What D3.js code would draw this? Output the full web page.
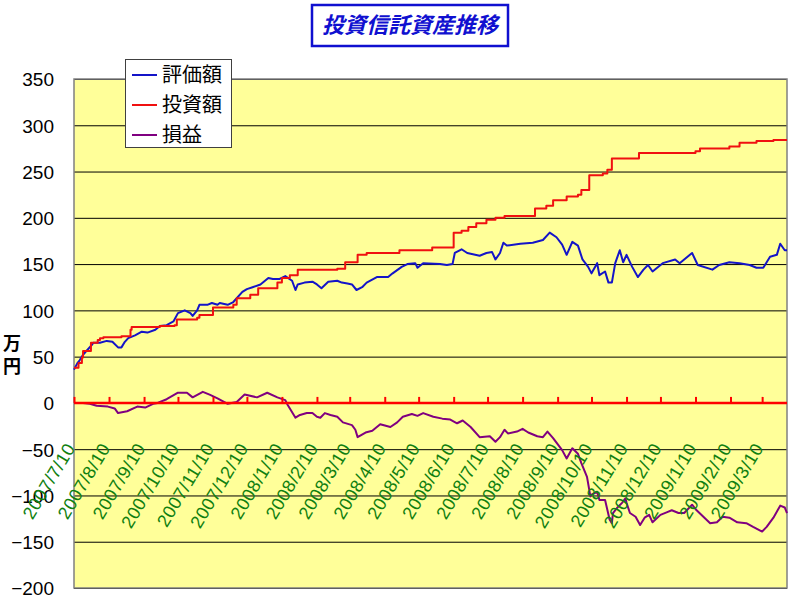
<!DOCTYPE html>
<html><head><meta charset="utf-8">
<script src="https://cdn.jsdelivr.net/npm/d3@7"></script>
<style>body{margin:0;background:#fff}</style>
</head><body>
<svg id="chart" width="800" height="605"></svg>
<script>
// 投資信託の評価額・投資額・損益の推移（単位：万円）
const chartTitle = "投資信託資産推移";
const seriesNames = ["評価額", "投資額", "損益"];
const seriesColors = ["#1414c8", "#f01010", "#800080"];
const unitLabel = "万円";
const yTickValues = [-200, -150, -100, -50, 0, 50, 100, 150, 200, 250, 300, 350];

const tickDates = ["2007-07-10","2007-08-10","2007-09-10","2007-10-10","2007-11-10","2007-12-10",
  "2008-01-10","2008-02-10","2008-03-10","2008-04-10","2008-05-10","2008-06-10","2008-07-10",
  "2008-08-10","2008-09-10","2008-10-10","2008-11-10","2008-12-10","2009-01-10","2009-02-10","2009-03-10"];
const tickLabels = ["2007/7/10","2007/8/10","2007/9/10","2007/10/10","2007/11/10","2007/12/10",
  "2008/1/10","2008/2/10","2008/3/10","2008/4/10","2008/5/10","2008/6/10","2008/7/10",
  "2008/8/10","2008/9/10","2008/10/10","2008/11/10","2008/12/10","2009/1/10","2009/2/10","2009/3/10"];
const dateRange = ["2007-07-10", "2009-04-01"];

// 評価額
const valuationDates = ["2007-07-10","2007-07-13","2007-07-15","2007-07-18","2007-07-26","2007-07-27","2007-08-02","2007-08-08","2007-08-13","2007-08-18","2007-08-21","2007-08-24","2007-08-27","2007-09-02","2007-09-08","2007-09-13","2007-09-20","2007-09-24","2007-09-30","2007-10-06","2007-10-10","2007-10-16","2007-10-21","2007-10-23","2007-10-27","2007-10-29","2007-11-05","2007-11-09","2007-11-14","2007-11-16","2007-11-23","2007-11-28","2007-12-06","2007-12-10","2007-12-15","2007-12-22","2007-12-29","2008-01-02","2008-01-08","2008-01-13","2008-01-19","2008-01-22","2008-01-24","2008-01-30","2008-02-06","2008-02-10","2008-02-14","2008-02-20","2008-02-28","2008-03-03","2008-03-08","2008-03-12","2008-03-16","2008-03-21","2008-03-25","2008-04-03","2008-04-13","2008-04-17","2008-04-25","2008-04-30","2008-05-07","2008-05-09","2008-05-14","2008-05-29","2008-06-04","2008-06-09","2008-06-11","2008-06-17","2008-06-22","2008-07-03","2008-07-09","2008-07-14","2008-07-17","2008-07-21","2008-07-24","2008-07-27","2008-08-08","2008-08-19","2008-08-28","2008-09-03","2008-09-09","2008-09-14","2008-09-18","2008-09-23","2008-09-28","2008-10-02","2008-10-07","2008-10-10","2008-10-15","2008-10-17","2008-10-22","2008-10-25","2008-10-28","2008-10-31","2008-11-04","2008-11-07","2008-11-10","2008-11-15","2008-11-20","2008-11-25","2008-11-29","2008-12-03","2008-12-12","2008-12-23","2008-12-27","2009-01-07","2009-01-12","2009-01-25","2009-01-31","2009-02-09","2009-02-18","2009-02-27","2009-03-05","2009-03-11","2009-03-17","2009-03-23","2009-03-26","2009-03-30","2009-04-01"];
const valuationValues = [36,43,46,52,63,65,65,67,66,60,60,66,70,73,77,76,79,83,84,88,97,100,97,94,100,106,106,108,106,108,106,109,120,123,125,128,135,134,134,137,132,122,128,130,131,128,124,131,132,130,129,128,122,125,130,136,136,140,147,150,151,146,151,150,149,150,162,166,162,159,162,163,155,162,173,170,172,173,176,184,179,171,160,174,170,155,147,140,151,138,142,130,130,151,165,152,160,147,136,144,149,142,151,155,151,162,149,144,149,152,151,149,146,146,158,160,172,165,165];

// 投資額（階段状に積み増し）
const investmentDates = ["2007-07-10","2007-07-14","2007-07-17","2007-07-18","2007-07-25","2007-07-31","2007-08-02","2007-08-05","2007-08-21","2007-08-29","2007-08-30","2007-09-24","2007-10-07","2007-10-09","2007-10-27","2007-10-29","2007-11-10","2007-11-28","2007-12-01","2007-12-13","2007-12-20","2008-01-06","2008-01-10","2008-01-17","2008-01-24","2008-02-28","2008-03-06","2008-03-17","2008-03-25","2008-04-23","2008-05-22","2008-06-10","2008-06-17","2008-06-23","2008-06-30","2008-07-09","2008-07-17","2008-07-25","2008-08-21","2008-08-31","2008-09-06","2008-09-18","2008-09-28","2008-10-01","2008-10-08","2008-10-20","2008-10-24","2008-10-28","2008-11-21","2009-01-10","2009-01-14","2009-02-09","2009-02-18","2009-03-05","2009-03-20","2009-04-01"];
const investmentValues = [38,43,49,56,65,68,70,71,72,79,82,83,84,90,92,95,103,106,113,117,124,130,135,138,144,145,152,160,162,165,168,184,186,190,194,198,200,202,210,213,219,223,225,230,246,248,252,264,270,272,275,277,281,283,284,284];

// 損益
const profitDates = ["2007-07-10","2007-07-18","2007-07-24","2007-07-30","2007-08-09","2007-08-15","2007-08-18","2007-08-26","2007-09-04","2007-09-11","2007-09-18","2007-09-22","2007-09-30","2007-10-10","2007-10-18","2007-10-23","2007-11-01","2007-11-07","2007-11-14","2007-11-23","2007-12-01","2007-12-08","2007-12-19","2007-12-28","2008-01-06","2008-01-13","2008-01-15","2008-01-22","2008-01-26","2008-02-01","2008-02-06","2008-02-10","2008-02-13","2008-02-17","2008-02-22","2008-02-28","2008-03-04","2008-03-12","2008-03-15","2008-03-17","2008-03-24","2008-03-30","2008-04-06","2008-04-15","2008-04-21","2008-04-26","2008-05-04","2008-05-09","2008-05-14","2008-05-23","2008-05-31","2008-06-07","2008-06-13","2008-06-18","2008-06-25","2008-07-03","2008-07-12","2008-07-17","2008-07-21","2008-07-25","2008-07-28","2008-08-05","2008-08-10","2008-08-15","2008-08-23","2008-08-28","2008-09-01","2008-09-06","2008-09-14","2008-09-18","2008-09-23","2008-09-28","2008-10-01","2008-10-06","2008-10-09","2008-10-10","2008-10-15","2008-10-17","2008-10-22","2008-10-26","2008-10-28","2008-10-29","2008-11-02","2008-11-06","2008-11-09","2008-11-10","2008-11-13","2008-11-18","2008-11-22","2008-11-26","2008-11-30","2008-12-03","2008-12-10","2008-12-16","2008-12-20","2008-12-26","2008-12-31","2009-01-07","2009-01-11","2009-01-17","2009-01-23","2009-01-29","2009-02-03","2009-02-09","2009-02-16","2009-02-24","2009-03-02","2009-03-10","2009-03-14","2009-03-20","2009-03-26","2009-03-30","2009-04-01"];
const profitValues = [0,0,-1,-3,-4,-6,-11,-9,-4,-5,-1,0,4,11,11,6,12,9,5,-1,1,9,6,11,6,3,-2,-16,-13,-11,-11,-15,-16,-11,-13,-15,-21,-24,-29,-37,-32,-30,-23,-26,-21,-15,-12,-14,-11,-15,-17,-18,-22,-19,-26,-37,-36,-42,-37,-29,-33,-31,-28,-32,-36,-37,-31,-38,-51,-60,-49,-55,-65,-80,-101,-99,-96,-105,-105,-126,-130,-119,-113,-108,-103,-108,-119,-123,-132,-124,-121,-129,-121,-118,-116,-119,-119,-110,-116,-123,-130,-129,-123,-124,-129,-130,-134,-139,-134,-124,-111,-113,-119];

const parse = d3.utcParse("%Y-%m-%d");
const svg = d3.select("#chart");
const plot = {left: 74, right: 787, top: 79, bottom: 588};

const x = d3.scaleUtc().domain(dateRange.map(parse)).range([plot.left, plot.right]);
const y = d3.scaleLinear().domain([-200, 350]).range([plot.bottom, plot.top]);

svg.append("rect").attr("width", 800).attr("height", 605).attr("fill", "#fff");

// プロットエリア
svg.append("rect")
  .attr("x", plot.left).attr("y", plot.top)
  .attr("width", plot.right - plot.left).attr("height", plot.bottom - plot.top)
  .attr("fill", "#ffff99");

// 目盛線と縦軸ラベル
const yAxis = d3.axisLeft(y).tickValues(yTickValues).tickSize(-(plot.right - plot.left))
  .tickPadding(20).tickFormat(d => d < 0 ? "\u2212" + Math.abs(d) : String(d));
const gy = svg.append("g").attr("transform", `translate(${plot.left},0)`).call(yAxis);
gy.select(".domain").remove();
gy.selectAll(".tick line").attr("stroke", "#000").attr("stroke-width", 1);
gy.selectAll(".tick text")
  .attr("font-family", "'Liberation Sans', Arial, sans-serif")
  .attr("font-size", 19).attr("fill", "#000").attr("x", -20).attr("dy", "0.36em");

// プロットエリア枠
svg.append("rect")
  .attr("x", plot.left).attr("y", plot.top)
  .attr("width", plot.right - plot.left).attr("height", plot.bottom - plot.top)
  .attr("fill", "none").attr("stroke", "#808080").attr("stroke-width", 1.5);

// 系列
const series = [
  {dates: valuationDates, values: valuationValues, curve: d3.curveLinear},
  {dates: investmentDates, values: investmentValues, curve: d3.curveStepAfter},
  {dates: profitDates, values: profitValues, curve: d3.curveLinear}
];
series.forEach((s, i) => {
  const pts = s.dates.map((d, k) => [parse(d), s.values[k]]);
  svg.append("path")
    .attr("d", d3.line().x(p => x(p[0])).y(p => y(p[1])).curve(s.curve)(pts))
    .attr("fill", "none").attr("stroke", seriesColors[i])
    .attr("stroke-width", 2).attr("stroke-linejoin", "round");
});

// 横軸（0 の位置、赤）
const xAxis = d3.axisTop(x).tickValues(tickDates.map(parse)).tickSize(6).tickFormat("");
const gx = svg.append("g").attr("transform", `translate(0,${y(0)})`).call(xAxis);
gx.select(".domain").attr("stroke", "#ff0000").attr("stroke-width", 2.5)
  .attr("d", `M${plot.left},0H${plot.right}`);
gx.selectAll(".tick line").attr("stroke", "#ff0000").attr("stroke-width", 2);

// 日付ラベル（斜め）
const labelG = svg.append("g");
tickDates.forEach((d, i) => {
  const tx = x(parse(d)) + 2;
  const ty = y(0) + 45;
  labelG.append("text")
    .attr("transform", `translate(${tx},${ty}) rotate(-59)`)
    .attr("text-anchor", "end")
    .attr("font-family", "'Liberation Sans', Arial, sans-serif")
    .attr("font-size", 18).attr("letter-spacing", 0.5)
    .attr("fill", "#108010")
    .text(tickLabels[i]);
});

// 単位（縦書き）
svg.append("text").attr("x", 12).attr("y", 334)
  .attr("style", "writing-mode: vertical-rl; text-orientation: upright;")
  .attr("font-family", "'Noto Sans CJK JP', sans-serif").attr("font-weight", "bold")
  .attr("font-size", 18).attr("letter-spacing", 5).attr("fill", "#000").text(unitLabel);

// 凡例
const legend = svg.append("g");
legend.append("rect").attr("x", 125.5).attr("y", 59.5).attr("width", 106).attr("height", 88)
  .attr("fill", "#fff").attr("stroke", "#404040").attr("stroke-width", 1);
seriesNames.forEach((name, i) => {
  const ly = 75 + i * 30;
  legend.append("line").attr("x1", 132).attr("x2", 157).attr("y1", ly).attr("y2", ly)
    .attr("stroke", seriesColors[i]).attr("stroke-width", 2);
  legend.append("text").attr("x", 162).attr("y", ly).attr("dy", "0.36em")
    .attr("font-family", "'Noto Sans CJK JP', sans-serif").attr("font-size", 20)
    .attr("fill", "#000").text(name);
});

// タイトル
svg.append("rect").attr("x", 312).attr("y", 5).attr("width", 196).attr("height", 41)
  .attr("fill", "#fff").attr("stroke", "#1010d0").attr("stroke-width", 2.5);
svg.append("text").attr("x", 410).attr("y", 25.5).attr("dy", "0.36em")
  .attr("text-anchor", "middle")
  .attr("font-family", "'Noto Sans CJK JP', sans-serif").attr("font-weight", "bold")
  .attr("font-style", "italic").attr("font-size", 22).attr("fill", "#1010d0")
  .text(chartTitle);
</script>
</body></html>
